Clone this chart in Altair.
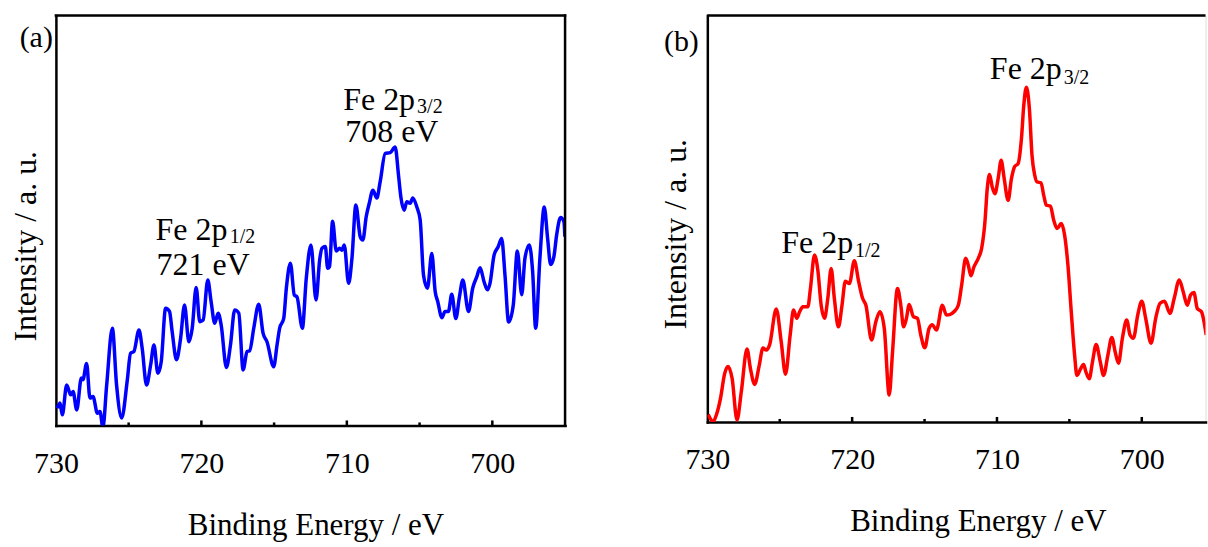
import altair as alt
import pandas as pd

FONT = "Liberation Serif"

# ---------------- Panel (a): blue spectrum ----------------
a_energy = [729.90, 729.72, 729.56, 729.26, 728.98, 728.82, 728.57, 728.25, 728.14, 727.89,
            727.66, 727.45, 727.15, 726.97, 726.77, 726.51, 726.12, 725.83, 725.48, 725.09,
            724.87, 724.64, 724.29, 724.07, 723.77, 723.49, 723.26, 722.99, 722.76, 722.46,
            722.19, 722.01, 721.71, 721.43, 721.16, 720.86, 720.63, 720.36, 720.11, 719.88,
            719.56, 719.33, 719.08, 718.85, 718.64, 718.28, 718.00, 717.71, 717.43, 717.13,
            716.86, 716.68, 716.40, 716.06, 715.76, 715.49, 715.03, 714.80, 714.62, 714.34,
            714.16, 713.88, 713.61, 713.43, 713.06, 712.79, 712.47, 712.12, 711.87, 711.71,
            711.48, 711.32, 711.19, 710.98, 710.73, 710.50, 710.34, 710.18, 709.88, 709.65,
            709.38, 709.08, 708.90, 708.67, 708.46, 708.21, 707.94, 707.71, 707.36, 707.02,
            706.68, 706.45, 706.29, 706.06, 705.88, 705.65, 705.47, 705.19, 704.96, 704.73,
            704.46, 704.16, 703.93, 703.75, 703.47, 703.25, 703.02, 702.79, 702.51, 702.26,
            702.03, 701.64, 701.35, 701.07, 700.84, 700.57, 700.34, 700.16, 699.88, 699.59,
            699.36, 699.13, 698.88, 698.56, 698.28, 697.98, 697.76, 697.46, 697.23, 697.02,
            696.73, 696.43, 696.20, 695.99, 695.77, 695.58, 695.31, 695.08, 695.01]
a_intensity = [4.2, 5.5, 2.6, 9.9, 7.5, 8.3, 3.8, 11.6, 11.2, 15.2,
               6.7, 7.1, 3.0, 3.4, -0.5, 9.9, 23.8, 9.9, 1.8, 11.2,
               17.7, 18.1, 23.4, 18.9, 9.9, 14.8, 19.7, 12.8, 15.6, 28.7,
               27.9, 23.0, 16.1, 21.3, 29.5, 20.5, 23.8, 33.8, 25.4, 25.8,
               35.6, 30.3, 25.0, 27.5, 24.6, 14.2, 19.7, 28.3, 27.5, 13.6,
               18.1, 18.3, 23.8, 29.7, 22.6, 20.5, 14.4, 19.7, 23.8, 26.2,
               33.6, 39.7, 31.9, 31.5, 23.8, 36.0, 44.2, 30.7, 40.5, 43.4,
               43.8, 38.5, 38.9, 50.0, 42.7, 43.4, 42.9, 44.2, 34.8, 40.9,
               54.0, 46.2, 45.4, 51.1, 54.4, 57.6, 55.7, 59.7, 66.6, 66.8,
               68.2, 61.3, 56.0, 52.7, 54.8, 54.4, 55.7, 53.5, 50.3, 36.8,
               33.6, 42.1, 32.8, 30.3, 26.4, 27.9, 27.9, 32.1, 26.2, 31.5,
               35.6, 27.9, 33.6, 36.4, 38.6, 35.2, 33.2, 34.8, 41.7, 43.8,
               45.8, 36.8, 25.3, 29.5, 42.7, 32.0, 40.9, 44.2, 37.7, 23.8,
               40.9, 53.5, 45.8, 39.4, 41.3, 46.6, 50.9, 49.9, 46.2]

# ---------------- Panel (b): red spectrum ----------------
b_energy = [729.94, 729.60, 729.37, 729.09, 728.80, 728.57, 728.29, 727.95, 727.65, 727.26,
            727.03, 726.73, 726.43, 726.16, 725.93, 725.70, 725.24, 724.90, 724.60, 724.28,
            724.05, 723.82, 723.63, 723.40, 723.06, 722.88, 722.60, 722.37, 722.14, 721.91,
            721.68, 721.45, 721.23, 720.95, 720.70, 720.47, 720.19, 719.85, 719.55, 719.28,
            719.05, 718.66, 718.36, 718.08, 717.78, 717.44, 717.21, 716.87, 716.64, 716.45,
            716.25, 716.06, 715.77, 715.49, 715.26, 714.98, 714.69, 714.46, 714.18, 713.77,
            713.49, 713.26, 712.97, 712.67, 712.44, 712.16, 711.98, 711.80, 711.59, 711.29,
            711.06, 710.83, 710.67, 710.51, 710.33, 710.14, 709.92, 709.71, 709.50, 709.23,
            709.00, 708.77, 708.54, 708.31, 708.15, 707.97, 707.76, 707.58, 707.39, 707.23,
            706.96, 706.77, 706.59, 706.31, 706.08, 705.85, 705.56, 705.33, 705.10, 704.87,
            704.64, 704.48, 704.25, 704.02, 703.86, 703.63, 703.40, 703.15, 702.87, 702.64,
            702.34, 702.07, 701.84, 701.61, 701.34, 701.04, 700.81, 700.58, 700.28, 700.00,
            699.73, 699.36, 699.04, 698.74, 698.44, 698.05, 697.76, 697.41, 697.14, 696.86,
            696.63, 696.40, 696.17, 695.88, 695.55]
b_intensity = [1.8, 0.1, 1.8, 5.8, 11.9, 13.6, 10.7, 0.5, 7.5, 17.9,
               13.2, 9.2, 13.6, 18.1, 17.6, 18.9, 27.7, 19.7, 11.7, 21.3,
               27.4, 25.4, 27.0, 28.2, 28.2, 32.7, 40.9, 37.2, 28.6, 25.4,
               30.3, 37.6, 30.3, 23.3, 28.6, 34.5, 33.9, 39.5, 34.4, 30.3,
               28.6, 20.1, 24.6, 27.0, 22.9, 6.6, 17.2, 32.7, 28.6, 23.3,
               25.4, 28.8, 25.8, 25.4, 21.3, 18.2, 22.9, 23.8, 22.5, 28.6,
               26.2, 26.3, 27.0, 28.6, 33.5, 40.1, 38.4, 35.8, 38.0, 40.1,
               42.5, 49.0, 57.2, 60.6, 57.6, 55.9, 59.6, 64.1, 59.6, 54.3,
               59.6, 62.6, 63.3, 69.4, 77.5, 82.0, 76.7, 65.3, 60.4, 58.8,
               58.6, 55.5, 53.1, 52.9, 49.4, 47.4, 48.6, 45.8, 38.4, 27.0,
               16.4, 11.4, 12.8, 14.1, 12.3, 10.6, 14.8, 19.0, 14.8, 11.4,
               16.4, 20.7, 17.2, 14.4, 20.5, 25.0, 21.3, 20.5, 26.2, 29.6,
               25.4, 19.3, 25.4, 29.1, 29.6, 26.6, 30.3, 34.8, 31.9, 28.6,
               31.1, 31.7, 27.8, 27.0, 21.3]

# axis tick labels and inward tick positions
x_labels = [730, 720, 710, 700]
major_ticks = [720, 710, 700]
minor_ticks = [725, 715, 705]

# annotations (label, energy, intensity)
a_ann_main = [("Fe 2p", 710.25, 77.3), ("708 eV", 710.11, 69.4),
              ("Fe 2p", 723.15, 45.5), ("721 eV", 723.08, 36.9)]
a_ann_sub = [("3/2", 705.17, 76.6), ("1/2", 718.05, 44.6)]
b_ann_main = [("Fe 2p", 710.49, 84.0), ("Fe 2p", 724.89, 41.5)]
b_ann_sub = [("3/2", 705.39, 82.9), ("1/2", 719.80, 40.4)]


def panel(energy, intensity, color, xdom, ydom, w, h, ann_main, ann_sub,
          letter, letter_x, letter_y, ytx, yty, xtx, right_border):
    df = pd.DataFrame({"E": energy, "I": intensity})
    xs = alt.Scale(domain=xdom, reverse=True, nice=False, zero=False)
    ys = alt.Scale(domain=ydom, nice=False, zero=False)
    x = alt.X("E:Q", scale=xs, axis=alt.Axis(
        values=x_labels, format="d", title="Binding Energy / eV", ticks=False,
        grid=False, domainColor="black", domainWidth=2.5, domainCap="square",
        labelFontSize=30, labelPadding=23, labelColor="black", labelFont=FONT,
        labelFlush=False, titleFontSize=31, titleFontWeight="normal",
        titleColor="black", titleFont=FONT, titleX=xtx, titleY=109,
        titleBaseline="alphabetic", titleAlign="center"))
    y = alt.Y("I:Q", scale=ys, axis=alt.Axis(
        labels=False, ticks=False, grid=False, domainColor="black",
        domainWidth=2.5, domainCap="square", title="Intensity / a. u.",
        titleFontSize=32, titleFontWeight="normal", titleColor="black",
        titleFont=FONT, titleX=ytx, titleY=yty, titleAngle=270,
        titleBaseline="alphabetic", titleAlign="center"))
    line = alt.Chart(df).mark_line(color=color, strokeWidth=3.5,
                                   interpolate="monotone", clip=True).encode(x=x, y=y)
    txt_main = alt.Chart(pd.DataFrame(ann_main, columns=["t", "E", "I"])).mark_text(
        align="left", baseline="alphabetic", fontSize=32, font=FONT, color="black"
    ).encode(x=x, y=y, text="t:N")
    txt_sub = alt.Chart(pd.DataFrame(ann_sub, columns=["t", "E", "I"])).mark_text(
        align="left", baseline="alphabetic", fontSize=20, font=FONT, color="black"
    ).encode(x=x, y=y, text="t:N")
    tk_major = alt.Chart(pd.DataFrame({"E": major_ticks})).mark_rule(
        color="black", strokeWidth=2.5).encode(
        x=x, y=alt.value(h), y2=alt.value(h - 5))
    tk_minor = alt.Chart(pd.DataFrame({"E": minor_ticks})).mark_rule(
        color="black", strokeWidth=2.5).encode(
        x=x, y=alt.value(h), y2=alt.value(h - 3))
    one = pd.DataFrame({"k": [0]})
    top = alt.Chart(one).mark_rule(color="black", strokeWidth=2.5,
                                   strokeCap="square" if right_border else "butt").encode(
        x=alt.value(0), x2=alt.value(w), y=alt.value(0))
    lab = alt.Chart(one).mark_text(align="center", baseline="alphabetic",
                                   fontSize=30, font=FONT, color="black").encode(
        x=alt.value(letter_x), y=alt.value(letter_y), text=alt.value(letter))
    layers = [line, txt_main, txt_sub, tk_major, tk_minor, top, lab]
    if right_border:
        rb = alt.Chart(one).mark_rule(color="black", strokeWidth=2.5,
                                      strokeCap="square").encode(
            x=alt.value(w), y=alt.value(0), y2=alt.value(h))
        layers.append(rb)
    return alt.layer(*layers).properties(width=w, height=h)


pa = panel(a_energy, a_intensity, "#0000ff", [695.0, 730.0], [0, 100.4], 510, 410.7,
           a_ann_main, a_ann_sub, "(a)", -19.7, 31.3, -20.2, 230.7, 260, True)
pb = panel(b_energy, b_intensity, "#ff0000", [695.6, 730.0], [0, 99.6], 499, 407.2,
           b_ann_main, b_ann_sub, "(b)", -26, 35.7, -21.5, 218.7, 271, False)

chart = alt.hconcat(pa, pb, spacing=142.5, bounds="flush").properties(
    padding={"left": 9, "top": 12, "right": 0, "bottom": 5}
).configure_view(stroke=None).configure(font=FONT)

chart.save("out.html", embed_options={"renderer": "svg", "actions": False})
